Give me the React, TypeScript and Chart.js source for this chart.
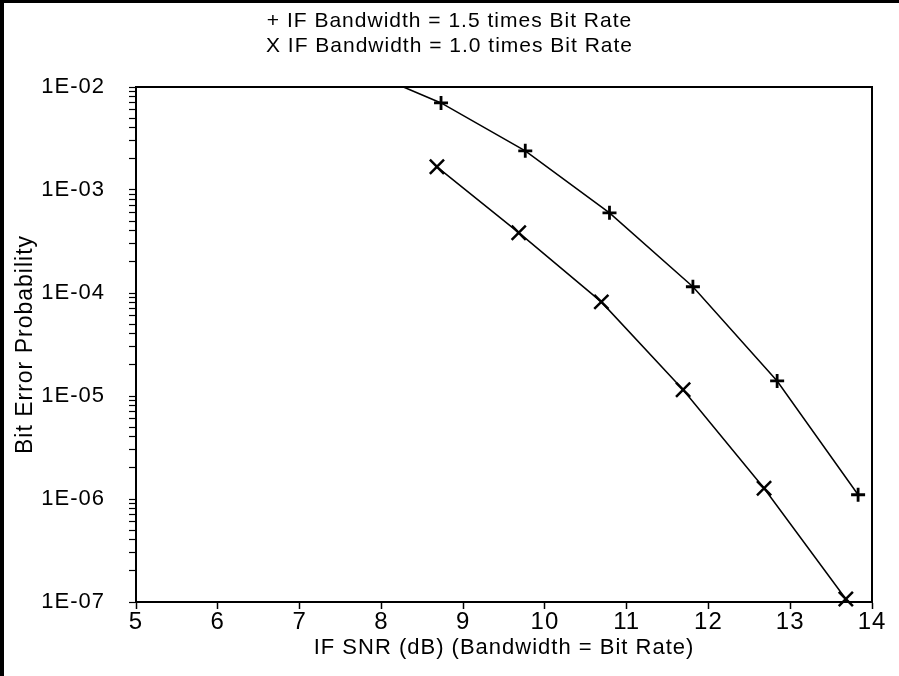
import React, { useEffect, useRef } from 'react';
import { Chart, registerables } from 'chart.js';

Chart.register(...registerables);

const TITLE_LINES = [
  '+ IF Bandwidth = 1.5 times Bit Rate',
  'X IF Bandwidth = 1.0 times Bit Rate',
];
const X_AXIS_TITLE = 'IF SNR (dB) (Bandwidth = Bit Rate)';
const Y_AXIS_TITLE = 'Bit Error Probability';

const X_TICK_VALUES = [5, 6, 7, 8, 9, 10, 11, 12, 13, 14];
const X_TICK_LABELS = ['5', '6', '7', '8', '9', '10', '11', '12', '13', '14'];
const Y_TICK_VALUES = [1e-2, 1e-3, 1e-4, 1e-5, 1e-6, 1e-7];
const Y_TICK_LABELS = ['1E-02', '1E-03', '1E-04', '1E-05', '1E-06', '1E-07'];
const Y_MINOR_MULTIPLIERS = [2, 3, 4, 5, 6, 7, 8, 9];

// "+" series: IF bandwidth = 1.5 x bit rate (first point is where the curve leaves the top edge)
const PLUS_SNR = [8.27, 8.73, 9.76, 10.79, 11.81, 12.84, 13.83];
const PLUS_BER = [1.0e-2, 7.0e-3, 2.4e-3, 6.0e-4, 1.15e-4, 1.4e-5, 1.1e-6];

// "X" series: IF bandwidth = 1.0 x bit rate
const CROSS_SNR = [8.68, 9.68, 10.69, 11.69, 12.68, 13.68];
const CROSS_BER = [1.68e-3, 3.85e-4, 8.2e-5, 1.15e-5, 1.27e-6, 1.07e-7];

const FONT_FAMILY = '"Liberation Sans", Arial, sans-serif';
const LETTER_SPACING = '1px';

const letterSpacingPlugin = {
  id: 'letterSpacingPlugin',
  beforeUpdate(chart: any) {
    chart.ctx.letterSpacing = LETTER_SPACING;
  },
  beforeLayout(chart: any) {
    chart.ctx.letterSpacing = LETTER_SPACING;
  },
  beforeDraw(chart: any) {
    chart.ctx.letterSpacing = LETTER_SPACING;
  },
};

export default function App() {
  const canvasRef = useRef<HTMLCanvasElement | null>(null);

  useEffect(() => {
    document.body.style.margin = '0';
    const canvas = canvasRef.current;
    if (!canvas) return;

    const plusData = PLUS_SNR.map((x, i) => ({ x, y: PLUS_BER[i] }));
    const crossData = CROSS_SNR.map((x, i) => ({ x, y: CROSS_BER[i] }));

    const yTicks: number[] = [];
    Y_TICK_VALUES.forEach((major) => {
      yTicks.push(major);
      if (major < Y_TICK_VALUES[0]) {
        Y_MINOR_MULTIPLIERS.forEach((m) => yTicks.push(major * m));
      }
    });
    yTicks.sort((a, b) => a - b);

    const black = '#000';

    const chart = new Chart(canvas, {
      type: 'line',
      data: {
        datasets: [
          {
            label: 'IF Bandwidth = 1.5 times Bit Rate',
            data: plusData,
            xAxisID: 'x',
            yAxisID: 'y',
            borderColor: black,
            borderWidth: 1.5,
            pointStyle: 'cross',
            pointRadius: (c: any) => (c.dataIndex === 0 ? 0 : 7),
            pointBorderWidth: 2.8,
            pointBorderColor: black,
            pointBackgroundColor: black,
            tension: 0,
            fill: false,
            clip: false as any,
          },
          {
            label: 'IF Bandwidth = 1.0 times Bit Rate',
            data: crossData,
            xAxisID: 'x',
            yAxisID: 'y',
            borderColor: black,
            borderWidth: 1.5,
            pointStyle: 'crossRot',
            pointRadius: 10,
            pointBorderWidth: 2.5,
            pointBorderColor: black,
            pointBackgroundColor: black,
            tension: 0,
            fill: false,
            clip: false as any,
          },
        ],
      },
      options: {
        animation: false,
        responsive: false,
        devicePixelRatio: 1,
        layout: { padding: 0 },
        plugins: {
          legend: { display: false },
          tooltip: { enabled: false },
          title: {
            display: true,
            text: TITLE_LINES,
            color: black,
            font: { family: FONT_FAMILY, size: 21, weight: 'normal', lineHeight: 1.2 },
            padding: { top: 8.4, bottom: 28.2 },
          },
        },
        scales: {
          x: {
            type: 'linear',
            position: 'bottom',
            min: 5,
            max: 14,
            afterBuildTicks: (s: any) => {
              s.ticks = X_TICK_VALUES.map((v) => ({ value: v }));
            },
            afterFit: (s: any) => {
              s.height = 74;
            },
            ticks: {
              autoSkip: false,
              maxRotation: 0,
              color: black,
              padding: -1,
              font: { family: FONT_FAMILY, size: 24 },
              callback: (_v: any, i: number) => X_TICK_LABELS[i],
            },
            grid: {
              display: true,
              drawOnChartArea: false,
              drawTicks: true,
              tickLength: 7,
              tickColor: black,
              tickWidth: 1.5,
            },
            border: { display: true, color: black, width: 2 },
            title: {
              display: true,
              text: X_AXIS_TITLE,
              color: black,
              font: { family: FONT_FAMILY, size: 22, lineHeight: 1.2 },
              padding: { top: 0, bottom: 15 },
            },
          },
          x2: {
            type: 'linear',
            position: 'top',
            min: 0,
            max: 1,
            afterFit: (s: any) => {
              s.height = 0;
            },
            ticks: { display: false },
            grid: { display: true, drawOnChartArea: false, drawTicks: false },
            border: { display: true, color: black, width: 2 },
          },
          y: {
            type: 'logarithmic',
            position: 'left',
            min: 1e-7,
            max: 1e-2,
            afterBuildTicks: (s: any) => {
              s.ticks = yTicks.map((v) => ({ value: v }));
            },
            afterFit: (s: any) => {
              s.width = 136;
            },
            ticks: {
              autoSkip: false,
              color: black,
              padding: 24,
              font: { family: FONT_FAMILY, size: 22 },
              callback: (v: any) => {
                const i = Y_TICK_VALUES.findIndex((t) => Math.abs(t - v) / t < 1e-6);
                return i >= 0 ? Y_TICK_LABELS[i] : '';
              },
            },
            grid: {
              display: true,
              drawOnChartArea: false,
              drawTicks: true,
              tickLength: 7,
              tickColor: black,
              tickWidth: 1.2,
            },
            border: { display: true, color: black, width: 2 },
            title: {
              display: true,
              text: Y_AXIS_TITLE,
              color: black,
              font: { family: FONT_FAMILY, size: 23, lineHeight: 1.2 },
              padding: { top: 12, bottom: 0 },
            },
          },
          y2: {
            type: 'linear',
            position: 'right',
            min: 0,
            max: 1,
            afterFit: (s: any) => {
              s.width = 27;
            },
            ticks: { display: false },
            grid: { display: true, drawOnChartArea: false, drawTicks: false },
            border: { display: true, color: black, width: 2 },
          },
        },
      } as any,
      plugins: [letterSpacingPlugin],
    });

    return () => {
      chart.destroy();
    };
  }, []);

  return (
    <div style={{ position: 'relative', width: 899, height: 676, background: '#fff', overflow: 'hidden' }}>
      <canvas ref={canvasRef} width={899} height={676} style={{ display: 'block', width: 899, height: 676 }} />
      <div style={{ position: 'absolute', left: 0, top: 0, width: 4, height: 676, background: '#000' }} />
      <div style={{ position: 'absolute', left: 0, top: 0, width: 899, height: 3, background: '#000' }} />
    </div>
  );
}
